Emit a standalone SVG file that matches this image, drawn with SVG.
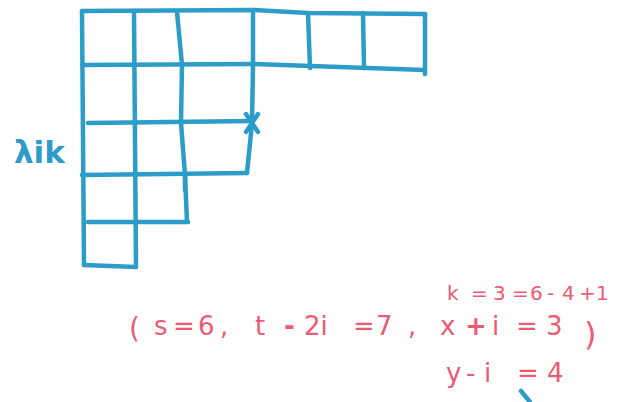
<svg xmlns="http://www.w3.org/2000/svg" width="621" height="402" viewBox="0 0 621 402">
<style>
.g{fill:none;stroke:#2c9dc8;stroke-width:4.5;stroke-linecap:round;stroke-linejoin:round}
.b{fill:#2c9dc8;font-family:"DejaVu Sans",sans-serif;font-weight:bold}
.r{fill:#ec5a74;font-family:"DejaVu Sans",sans-serif}
</style>
<rect width="621" height="402" fill="#ffffff"/>
<g id="diagram">
<path class="g" d="M82,11 L253,10 L308,13 L425,14"/>
<path class="g" d="M82,65 L253,64 L425,70"/>
<path class="g" d="M88,123 L253,121"/>
<path class="g" d="M82,175 L247,173"/>
<path class="g" d="M88,222 L188,222"/>
<path class="g" d="M84,265 L136,267"/>
<path class="g" d="M82,11 L84,265"/>
<path class="g" d="M134,12 L136,267"/>
<path class="g" d="M177,12 L182,65 L181,123 L185,175 L185,190"/>
<path class="g" d="M185,175 L187,222"/>
<path class="g" d="M253,10 L253,65 L252,123 L247,173"/>
<path class="g" d="M308,13 L310,68"/>
<path class="g" d="M363,13 L364,68"/>
<path class="g" d="M425,14 L425,74"/>
<path class="g" d="M246,114 L258,132 M258,114 L246,132" stroke-width="3.5"/>
<path class="g" d="M521,391 L530,402"/>
</g>
<g id="label">
<text class="b" x="14" y="163" font-size="31">λik</text>
</g>
<g id="formulas">
<text class="r" font-size="20" y="300"><tspan x="447">k</tspan><tspan x="471">=</tspan><tspan x="493">3</tspan><tspan x="512">=</tspan><tspan x="530">6</tspan><tspan x="547">-</tspan><tspan x="562">4</tspan><tspan x="579">+</tspan><tspan x="596">1</tspan></text>
<text class="r" font-size="28" x="129" y="338">(</text>
<text class="r" font-size="32" x="584" y="345">)</text>
<text class="r" font-size="26" y="335"><tspan x="154">s</tspan><tspan x="173">=</tspan><tspan x="198">6</tspan><tspan x="220">,</tspan><tspan x="255">t</tspan><tspan x="284" font-weight="bold">-</tspan><tspan x="304">2i</tspan><tspan x="353">=</tspan><tspan x="376">7</tspan><tspan x="408">,</tspan><tspan x="440">x</tspan><tspan x="465" font-weight="bold">+</tspan><tspan x="492">i</tspan><tspan x="516">=</tspan><tspan x="546">3</tspan></text>
<text class="r" font-size="26" y="382"><tspan x="446">y</tspan><tspan x="466">-</tspan><tspan x="484">i</tspan><tspan x="517">=</tspan><tspan x="547">4</tspan></text>
</g>
</svg>
